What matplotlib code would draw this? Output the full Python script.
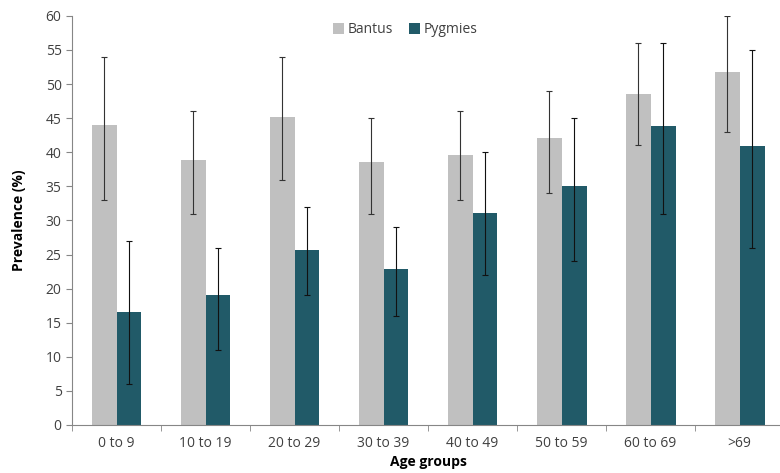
import numpy as np
import matplotlib.pyplot as plt

groups = ['0 to 9', '10 to 19', '20 to 29', '30 to 39', '40 to 49', '50 to 59', '60 to 69', '>69']
bantus = [44.0, 38.8, 45.2, 38.5, 39.6, 42.1, 48.6, 51.7]
bantus_lo = [33, 31, 36, 31, 33, 34, 41, 43]
bantus_hi = [54, 46, 54, 45, 46, 49, 56, 60]
pygmies = [16.6, 19.1, 25.6, 22.9, 31.1, 35.0, 43.8, 40.9]
pygmies_lo = [6, 11, 19, 16, 22, 24, 31, 26]
pygmies_hi = [27, 26, 32, 29, 40, 45, 56, 55]

plt.rcParams['font.family'] = ['Open Sans', 'DejaVu Sans']

fig = plt.figure(figsize=(7.8, 4.73), dpi=100)
ax = fig.add_axes([0.0923, 0.1015, 0.913, 0.865])

x = np.arange(len(groups))
w = 0.28
b_err = [np.array(bantus) - np.array(bantus_lo), np.array(bantus_hi) - np.array(bantus)]
p_err = [np.array(pygmies) - np.array(pygmies_lo), np.array(pygmies_hi) - np.array(pygmies)]
ax.bar(x - w/2, bantus, w, color='#c0c0c0', label='Bantus',
       yerr=b_err, error_kw=dict(ecolor='#333333', elinewidth=0.8, capsize=2, capthick=0.8))
ax.bar(x + w/2, pygmies, w, color='#215a68', label='Pygmies',
       yerr=p_err, error_kw=dict(ecolor='#111111', elinewidth=0.8, capsize=2, capthick=0.8))

ax.set_xlim(-0.5, len(groups) - 0.5)
ax.set_ylim(0, 60)
ax.set_yticks(range(0, 61, 5))
ax.set_xticks(x)
ax.set_xticklabels(groups)
ax.set_xticks(np.arange(-0.5, len(groups), 1), minor=True)
ax.tick_params(axis='x', which='major', length=0, pad=8, labelsize=10, labelcolor='#404040')
ax.tick_params(axis='x', which='minor', length=4, color='#868686')
ax.tick_params(axis='y', length=4, color='#868686', labelsize=10, labelcolor='#404040')

for s in ['top', 'right']:
    ax.spines[s].set_visible(False)
for s in ['left', 'bottom']:
    ax.spines[s].set_color('#868686')

ax.set_ylabel('Prevalence (%)', fontweight='bold', fontsize=10, labelpad=14)
ax.set_xlabel('Age groups', fontweight='bold', fontsize=10, labelpad=3)

ax.legend(loc='upper center', bbox_to_anchor=(0.468, 1.015), ncol=2, frameon=False,
          fontsize=10, handlelength=0.8, handleheight=0.8, handletextpad=0.3, columnspacing=1.1,
          labelcolor='#404040')

plt.savefig('out.png', dpi=100)
